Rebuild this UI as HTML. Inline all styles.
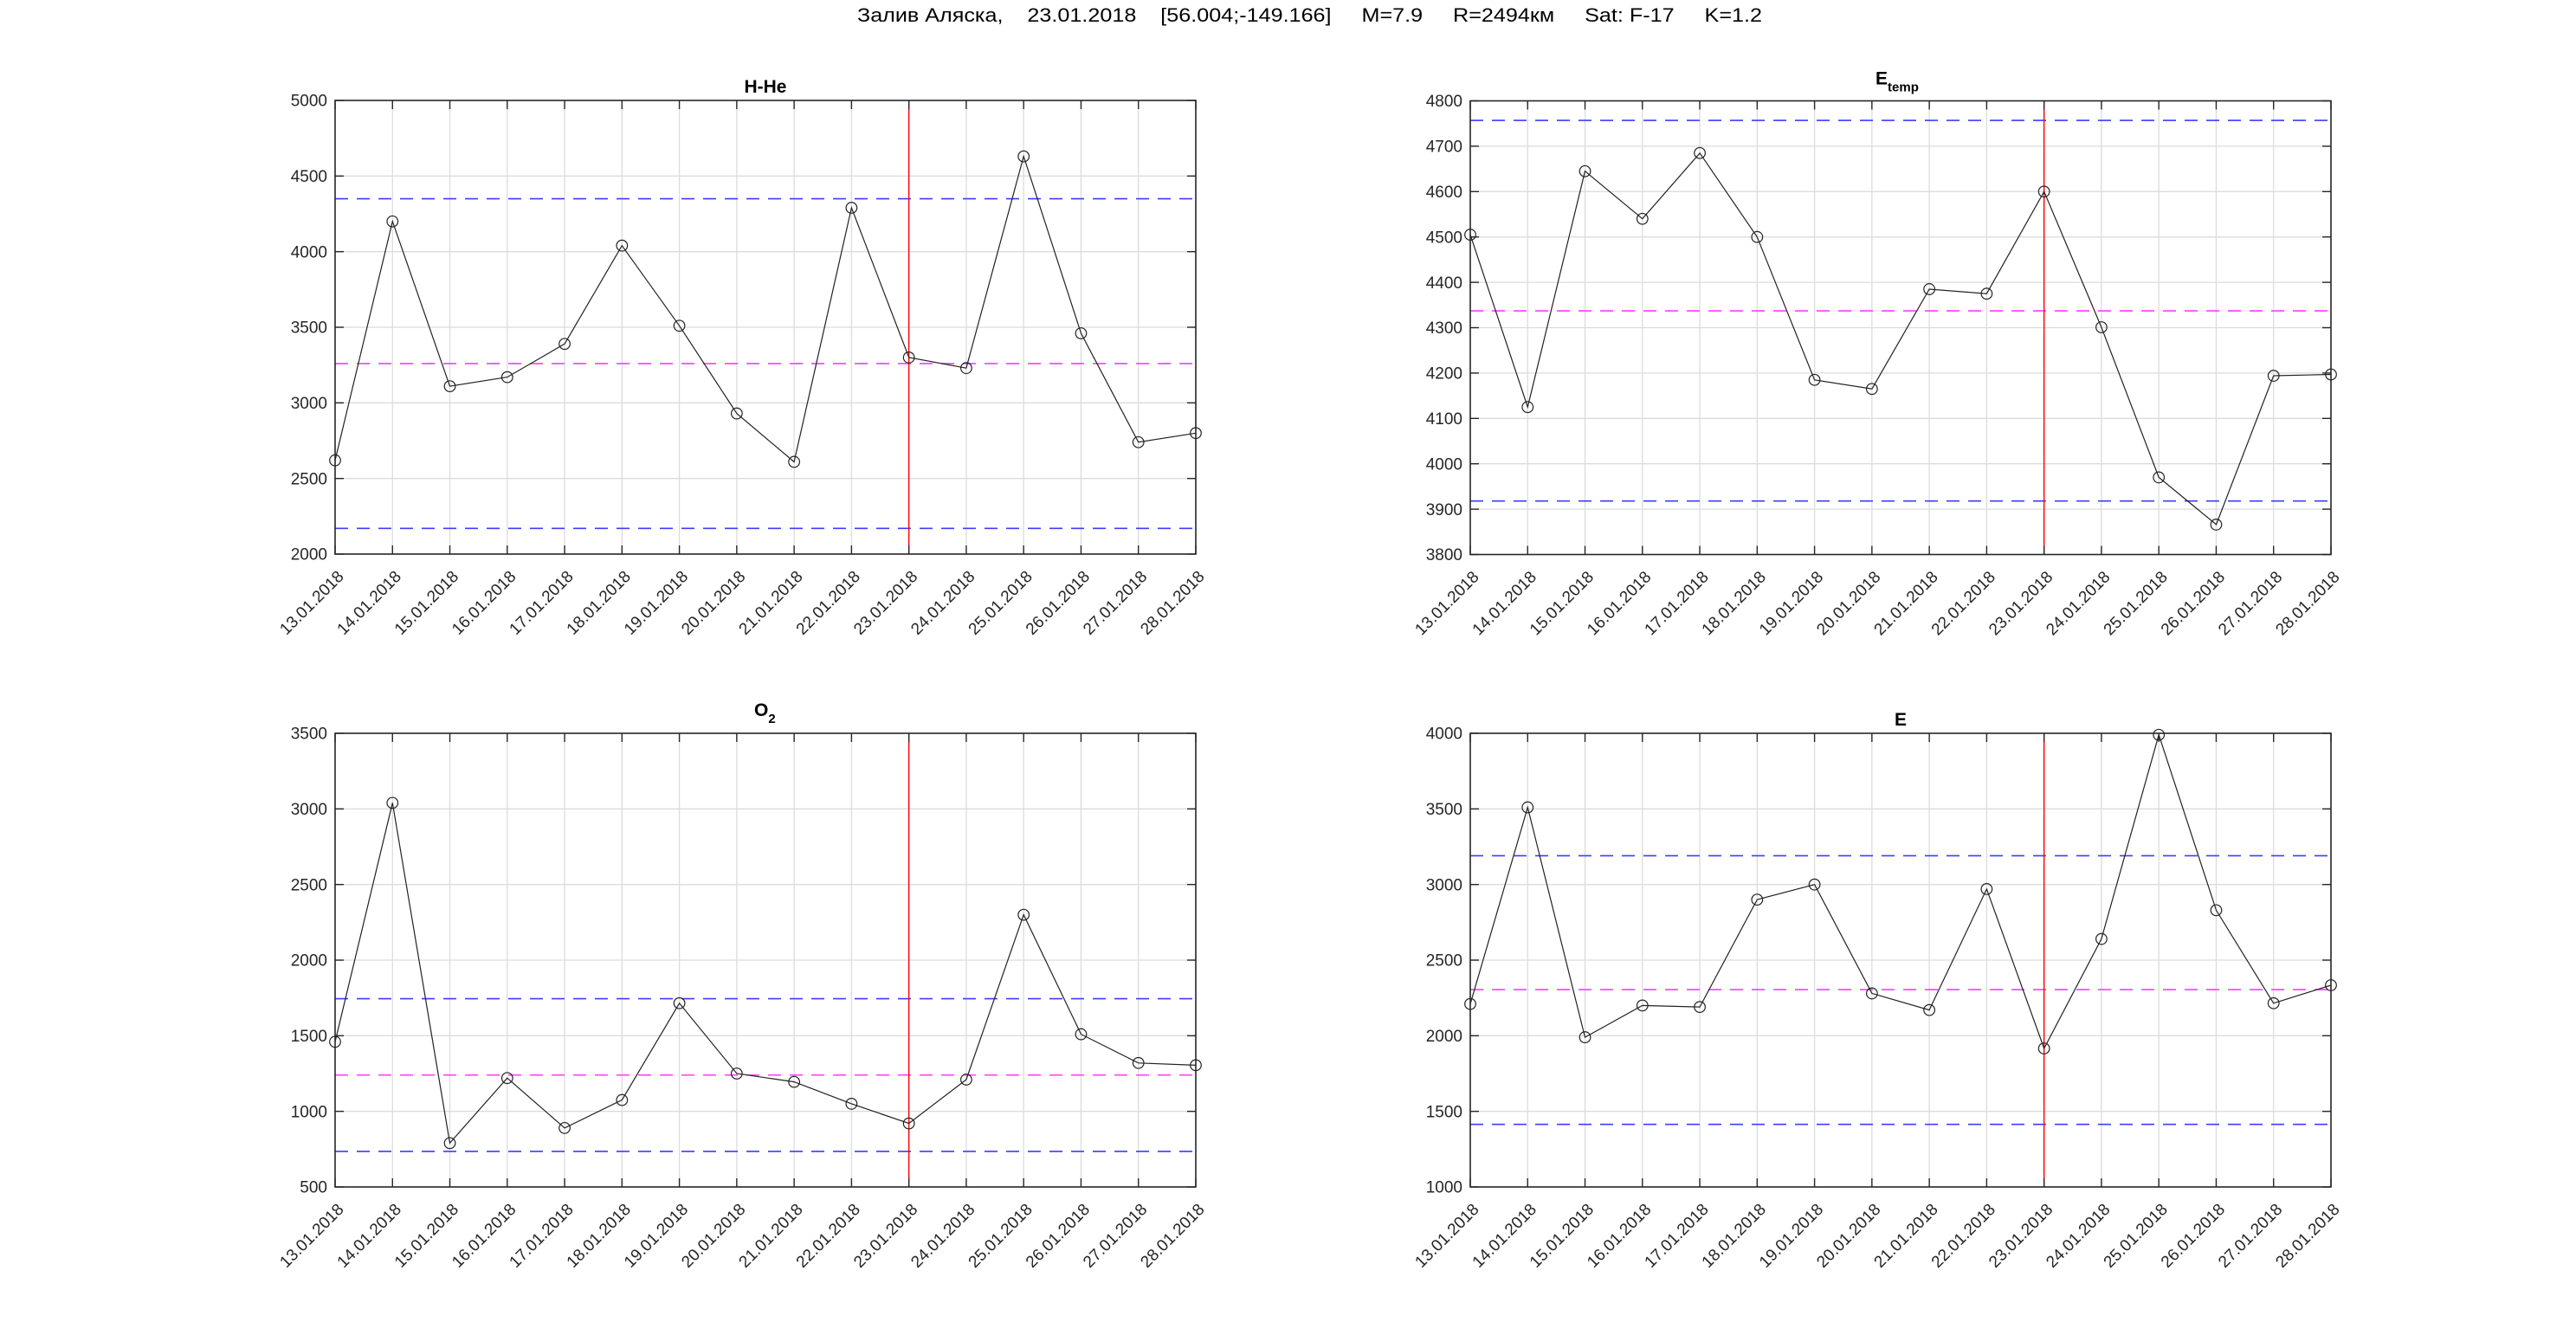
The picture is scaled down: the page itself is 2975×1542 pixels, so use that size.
<!DOCTYPE html>
<html><head><meta charset="utf-8"><style>
html,body{margin:0;padding:0;background:#fff;}
svg{display:block;font-family:"Liberation Sans",Arial,sans-serif;}
.tk{font-size:19px;fill:#262626;}
.ti{font-size:21px;font-weight:bold;fill:#000;}
</style></head><body>
<svg id="s" width="2975" height="1542" viewBox="0 0 2975 1542" xmlns="http://www.w3.org/2000/svg">
<rect width="2975" height="1542" fill="#fff"/>
<text x="990" y="25" font-size="22" fill="#000" textLength="1045" lengthAdjust="spacingAndGlyphs" xml:space="preserve">Залив Аляска,    23.01.2018    [56.004;-149.166]     M=7.9     R=2494км     Sat: F-17     K=1.2</text>

<g id="p0" transform="translate(387,116)">
<text class="ti" x="497" y="-9" text-anchor="middle">H-He</text>
<g class="tk" text-anchor="end">
<text x="-9" y="524" dy=".35em">2000</text><text x="-9" y="436.7" dy=".35em">2500</text><text x="-9" y="349.3" dy=".35em">3000</text><text x="-9" y="262" dy=".35em">3500</text><text x="-9" y="174.7" dy=".35em">4000</text><text x="-9" y="87.3" dy=".35em">4500</text><text x="-9" y="0" dy=".35em">5000</text>
</g>
<g class="tk" text-anchor="end">
<text transform="translate(11,551) rotate(-45)">13.01.2018</text>
<text transform="translate(77.3,551) rotate(-45)">14.01.2018</text>
<text transform="translate(143.5,551) rotate(-45)">15.01.2018</text>
<text transform="translate(209.8,551) rotate(-45)">16.01.2018</text>
<text transform="translate(276.1,551) rotate(-45)">17.01.2018</text>
<text transform="translate(342.3,551) rotate(-45)">18.01.2018</text>
<text transform="translate(408.6,551) rotate(-45)">19.01.2018</text>
<text transform="translate(474.9,551) rotate(-45)">20.01.2018</text>
<text transform="translate(541.1,551) rotate(-45)">21.01.2018</text>
<text transform="translate(607.4,551) rotate(-45)">22.01.2018</text>
<text transform="translate(673.7,551) rotate(-45)">23.01.2018</text>
<text transform="translate(739.9,551) rotate(-45)">24.01.2018</text>
<text transform="translate(806.2,551) rotate(-45)">25.01.2018</text>
<text transform="translate(872.5,551) rotate(-45)">26.01.2018</text>
<text transform="translate(938.7,551) rotate(-45)">27.01.2018</text>
<text transform="translate(1005,551) rotate(-45)">28.01.2018</text>
</g>
</g>

<g id="p1" transform="translate(1698,116.5)">
<text class="ti" x="468" y="-19" text-anchor="start">E<tspan font-size="15" dy="8">temp</tspan></text>
<g class="tk" text-anchor="end">
<text x="-9" y="524" dy=".35em">3800</text><text x="-9" y="471.6" dy=".35em">3900</text><text x="-9" y="419.2" dy=".35em">4000</text><text x="-9" y="366.8" dy=".35em">4100</text><text x="-9" y="314.4" dy=".35em">4200</text><text x="-9" y="262" dy=".35em">4300</text><text x="-9" y="209.6" dy=".35em">4400</text><text x="-9" y="157.2" dy=".35em">4500</text><text x="-9" y="104.8" dy=".35em">4600</text><text x="-9" y="52.4" dy=".35em">4700</text><text x="-9" y="0" dy=".35em">4800</text>
</g>
<g class="tk" text-anchor="end">
<text transform="translate(11,551) rotate(-45)">13.01.2018</text>
<text transform="translate(77.3,551) rotate(-45)">14.01.2018</text>
<text transform="translate(143.5,551) rotate(-45)">15.01.2018</text>
<text transform="translate(209.8,551) rotate(-45)">16.01.2018</text>
<text transform="translate(276.1,551) rotate(-45)">17.01.2018</text>
<text transform="translate(342.3,551) rotate(-45)">18.01.2018</text>
<text transform="translate(408.6,551) rotate(-45)">19.01.2018</text>
<text transform="translate(474.9,551) rotate(-45)">20.01.2018</text>
<text transform="translate(541.1,551) rotate(-45)">21.01.2018</text>
<text transform="translate(607.4,551) rotate(-45)">22.01.2018</text>
<text transform="translate(673.7,551) rotate(-45)">23.01.2018</text>
<text transform="translate(739.9,551) rotate(-45)">24.01.2018</text>
<text transform="translate(806.2,551) rotate(-45)">25.01.2018</text>
<text transform="translate(872.5,551) rotate(-45)">26.01.2018</text>
<text transform="translate(938.7,551) rotate(-45)">27.01.2018</text>
<text transform="translate(1005,551) rotate(-45)">28.01.2018</text>
</g>
</g>

<g id="p2" transform="translate(387,847)">
<text class="ti" x="484" y="-20" text-anchor="start">O<tspan font-size="15" dy="8">2</tspan></text>
<g class="tk" text-anchor="end">
<text x="-9" y="524" dy=".35em">500</text><text x="-9" y="436.7" dy=".35em">1000</text><text x="-9" y="349.3" dy=".35em">1500</text><text x="-9" y="262" dy=".35em">2000</text><text x="-9" y="174.7" dy=".35em">2500</text><text x="-9" y="87.3" dy=".35em">3000</text><text x="-9" y="0" dy=".35em">3500</text>
</g>
<g class="tk" text-anchor="end">
<text transform="translate(11,551) rotate(-45)">13.01.2018</text>
<text transform="translate(77.3,551) rotate(-45)">14.01.2018</text>
<text transform="translate(143.5,551) rotate(-45)">15.01.2018</text>
<text transform="translate(209.8,551) rotate(-45)">16.01.2018</text>
<text transform="translate(276.1,551) rotate(-45)">17.01.2018</text>
<text transform="translate(342.3,551) rotate(-45)">18.01.2018</text>
<text transform="translate(408.6,551) rotate(-45)">19.01.2018</text>
<text transform="translate(474.9,551) rotate(-45)">20.01.2018</text>
<text transform="translate(541.1,551) rotate(-45)">21.01.2018</text>
<text transform="translate(607.4,551) rotate(-45)">22.01.2018</text>
<text transform="translate(673.7,551) rotate(-45)">23.01.2018</text>
<text transform="translate(739.9,551) rotate(-45)">24.01.2018</text>
<text transform="translate(806.2,551) rotate(-45)">25.01.2018</text>
<text transform="translate(872.5,551) rotate(-45)">26.01.2018</text>
<text transform="translate(938.7,551) rotate(-45)">27.01.2018</text>
<text transform="translate(1005,551) rotate(-45)">28.01.2018</text>
</g>
</g>

<g id="p3" transform="translate(1698,847)">
<text class="ti" x="497" y="-9" text-anchor="middle">E</text>
<g class="tk" text-anchor="end">
<text x="-9" y="524" dy=".35em">1000</text><text x="-9" y="436.7" dy=".35em">1500</text><text x="-9" y="349.3" dy=".35em">2000</text><text x="-9" y="262" dy=".35em">2500</text><text x="-9" y="174.7" dy=".35em">3000</text><text x="-9" y="87.3" dy=".35em">3500</text><text x="-9" y="0" dy=".35em">4000</text>
</g>
<g class="tk" text-anchor="end">
<text transform="translate(11,551) rotate(-45)">13.01.2018</text>
<text transform="translate(77.3,551) rotate(-45)">14.01.2018</text>
<text transform="translate(143.5,551) rotate(-45)">15.01.2018</text>
<text transform="translate(209.8,551) rotate(-45)">16.01.2018</text>
<text transform="translate(276.1,551) rotate(-45)">17.01.2018</text>
<text transform="translate(342.3,551) rotate(-45)">18.01.2018</text>
<text transform="translate(408.6,551) rotate(-45)">19.01.2018</text>
<text transform="translate(474.9,551) rotate(-45)">20.01.2018</text>
<text transform="translate(541.1,551) rotate(-45)">21.01.2018</text>
<text transform="translate(607.4,551) rotate(-45)">22.01.2018</text>
<text transform="translate(673.7,551) rotate(-45)">23.01.2018</text>
<text transform="translate(739.9,551) rotate(-45)">24.01.2018</text>
<text transform="translate(806.2,551) rotate(-45)">25.01.2018</text>
<text transform="translate(872.5,551) rotate(-45)">26.01.2018</text>
<text transform="translate(938.7,551) rotate(-45)">27.01.2018</text>
<text transform="translate(1005,551) rotate(-45)">28.01.2018</text>
</g>
</g>
</svg>
<script>
(function(){
var NS="http://www.w3.org/2000/svg";
var W=994,H=524,dx=W/15;
var P=[
 {id:"p0",min:2000,max:5000,step:500,d:[2620,4200,3110,3170,3390,4040,3510,2930,2610,4290,3300,3230,4630,3460,2740,2800],h:[4350,3260,2170]},
 {id:"p1",min:3800,max:4800,step:100,d:[4505,4125,4645,4540,4685,4500,4185,4165,4385,4375,4600,4301,3970,3866,4194,4197],h:[4757,4337,3918]},
 {id:"p2",min:500,max:3500,step:500,d:[1460,3040,790,1220,890,1075,1715,1250,1195,1050,920,1210,2300,1510,1320,1305],h:[1745,1240,735]},
 {id:"p3",min:1000,max:4000,step:500,d:[2210,3510,1990,2200,2190,2900,3000,2280,2170,2970,1916,2640,3990,2830,2215,2334],h:[3190,2305,1414]}
];
function el(t,a,p){var e=document.createElementNS(NS,t);for(var k in a)e.setAttribute(k,a[k]);p.appendChild(e);return e;}
P.forEach(function(p){
 var g=document.getElementById(p.id);
 var gg=document.createElementNS(NS,"g");g.insertBefore(gg,g.firstChild);
 function Y(v){return H-(v-p.min)/(p.max-p.min)*H;}
 for(var i=1;i<15;i++)el("line",{x1:i*dx,x2:i*dx,y1:0,y2:H,stroke:"#dcdcdc","stroke-width":1.3},gg);
 for(var v=p.min+p.step;v<p.max-1e-6;v+=p.step)el("line",{x1:0,x2:W,y1:Y(v),y2:Y(v),stroke:"#dcdcdc","stroke-width":1.3},gg);
 var cols=["#3c3cff","#ff3cff","#3c3cff"];
 p.h.forEach(function(v,k){el("line",{x1:0,x2:W,y1:Y(v),y2:Y(v),stroke:cols[k],"stroke-width":1.6,"stroke-dasharray":"15,10"},gg);});
 el("line",{x1:10*dx,x2:10*dx,y1:0,y2:H,stroke:"#ff0000","stroke-width":1.4},gg);
 var pts=p.d.map(function(v,i){return (i*dx).toFixed(1)+","+Y(v).toFixed(1);}).join(" ");
 el("polyline",{points:pts,fill:"none",stroke:"#222","stroke-width":1.2},gg);
 p.d.forEach(function(v,i){el("circle",{cx:i*dx,cy:Y(v),r:6.3,fill:"none",stroke:"#222","stroke-width":1.2},gg);});
 for(var i=0;i<=15;i++){el("line",{x1:i*dx,x2:i*dx,y1:H,y2:H-10,stroke:"#262626","stroke-width":1.4},gg);el("line",{x1:i*dx,x2:i*dx,y1:0,y2:10,stroke:"#262626","stroke-width":1.4},gg);}
 for(var v=p.min;v<=p.max+1e-6;v+=p.step){el("line",{x1:0,x2:10,y1:Y(v),y2:Y(v),stroke:"#262626","stroke-width":1.4},gg);el("line",{x1:W,x2:W-10,y1:Y(v),y2:Y(v),stroke:"#262626","stroke-width":1.4},gg);}
 el("rect",{x:0,y:0,width:W,height:H,fill:"none",stroke:"#262626","stroke-width":1.6},gg);
});
})();
</script>
</body></html>
